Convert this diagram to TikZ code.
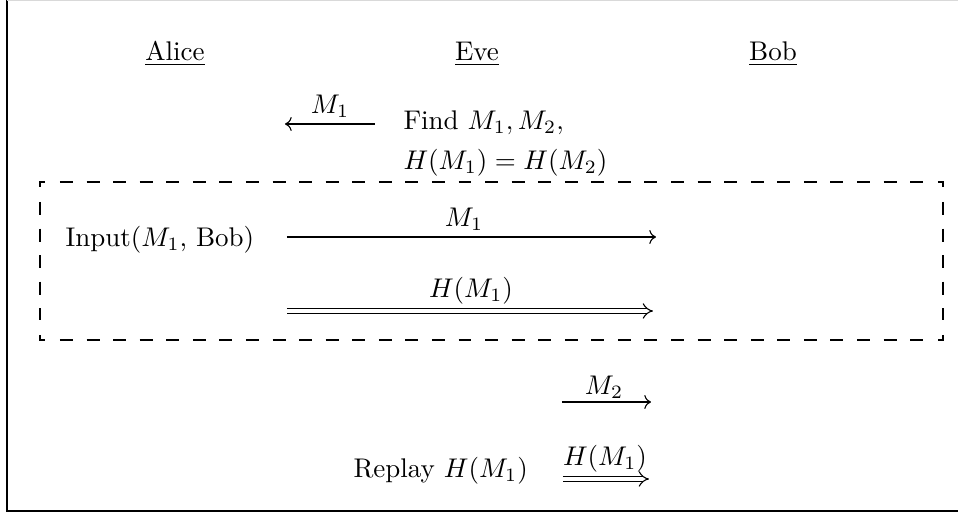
\documentclass[tikz,border=0pt]{standalone}
\usepackage{amsmath}
\usetikzlibrary{arrows.meta,calc}
\begin{document}
\begin{tikzpicture}[x=0.37037pt,y=-0.37037pt,
  lbl/.style={inner sep=0pt},
  msg/.style={line width=0.4pt,-{Computer Modern Rightarrow}},
  dmsg/.style={double, double distance=1.6pt, line width=0.4pt, -{Implies}},
  dashline/.style={dash pattern=on 4.81pt off 5.03pt, line width=0.45pt},
  cornerline/.style={line width=0.45pt}]
\useasboundingbox (0,0) rectangle (958,514);
% frame
\draw[line width=0.6pt] (7,0) -- (7,511) -- (958,511);
\draw[black!15] (7,0.5) -- (958,0.5);
% parties
\node[lbl] (alice) at (175,54) {\underline{Alice}};
\node[lbl] (eve) at (477,54) {\underline{Eve}};
\node[lbl] (bob) at (773,54) {\underline{Bob}};
% row 1
\coordinate (a1s) at (375,124);
\coordinate (a1e) at (285,124);
\draw[msg] (a1s) -- (a1e);
\node[lbl] (l1) at (330,106) {$M_1$};
\node[lbl,anchor=west] (find) at (403,123) {Find $M_1, M_2,$};
\node[lbl,anchor=west] (eq) at (403,163) {$H(M_1) = H(M_2)$};
% dashed box
\coordinate (tl) at (40,182);
\coordinate (tr) at (943,182);
\coordinate (br) at (943,340);
\coordinate (bl) at (40,340);
\draw[cornerline] ($(tl)+(0,5)$) -- (tl) -- ($(tl)+(5,0)$);
\draw[cornerline] ($(tr)+(-5,0)$) -- (tr) -- ($(tr)+(0,5)$);
\draw[cornerline] ($(br)+(0,-5)$) -- (br) -- ($(br)+(-5,0)$);
\draw[cornerline] ($(bl)+(5,0)$) -- (bl) -- ($(bl)+(0,-5)$);
\draw[dashline] ($(tl)+(20,0)$) -- ($(tr)+(-20,0)$);
\draw[dashline] ($(bl)+(20,0)$) -- ($(br)+(-20,0)$);
\draw[dashline] ($(tl)+(0,20)$) -- ($(bl)+(0,-20)$);
\draw[dashline] ($(tr)+(0,20)$) -- ($(br)+(0,-20)$);
% row 2
\node[lbl,anchor=west] (input) at (65,240) {Input($M_1$, Bob)};
\coordinate (a2s) at (287,237);
\coordinate (a2e) at (656,237);
\draw[msg] (a2s) -- (a2e);
\node[lbl] (l2) at (464,219) {$M_1$};
% row 3
\coordinate (a3s) at (287,311);
\coordinate (a3e) at (653,311);
\draw[dmsg] (a3s) -- (a3e);
\node[lbl] (l3) at (471,291) {$H(M_1)$};
% row 4
\coordinate (a4s) at (562,402);
\coordinate (a4e) at (651,402);
\draw[msg] (a4s) -- (a4e);
\node[lbl] (l4) at (604,387) {$M_2$};
% row 5
\node[lbl,anchor=west] (replay) at (353,471) {Replay $H(M_1)$};
\coordinate (a5s) at (563,479);
\coordinate (a5e) at (649,479);
\draw[dmsg] (a5s) -- (a5e);
\node[lbl] (l5) at (605,459) {$H(M_1)$};
\end{tikzpicture}
\end{document}
